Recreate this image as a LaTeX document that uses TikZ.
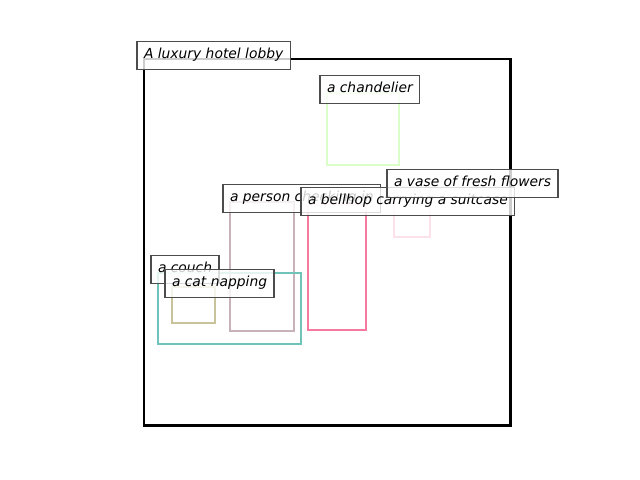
\documentclass[tikz,border=0pt]{standalone}
\usepackage{fontspec}
\setmainfont{DejaVu Sans}
\usepackage{tikz}
\usetikzlibrary{positioning, calc}

\definecolor{chandc}{RGB}{218,255,200}
\definecolor{personc}{RGB}{201,177,187}
\definecolor{bellhopc}{RGB}{244,122,160}
\definecolor{vasec}{RGB}{251,226,234}
\definecolor{couchc}{RGB}{111,195,184}
\definecolor{catc}{RGB}{200,195,154}

\begin{document}
\begin{tikzpicture}[
    x=0.01in, y=-0.01in,
    frame/.style={rectangle, draw=black, line width=2pt, anchor=north west, outer sep=0pt, inner sep=0pt},
    objbox/.style={rectangle, line width=2pt, anchor=north west, outer sep=0pt, inner sep=0pt},
    tag/.style={rectangle, draw=black!70, line width=1pt, fill=white, fill opacity=0.8, text opacity=1, anchor=base west, outer sep=0pt, inner xsep=5pt, inner ysep=5pt, text height=7.6pt, text depth=2.4pt, font=\itshape}
]
\useasboundingbox (0,0) rectangle (640,480);

% Scene frame
\node[frame, minimum width=3.66in, minimum height=3.66in] (lobby) at (144,59) {};

% Objects
\node[objbox, draw=chandc, minimum width=0.72in, minimum height=0.72in] (chandelier) at (327,93) {};
\node[objbox, draw=personc, minimum width=0.64in, minimum height=1.29in] (person) at (230,202) {};
\node[objbox, draw=bellhopc, minimum width=0.58in, minimum height=1.25in] (bellhop) at (308,205) {};
\node[objbox, draw=vasec, minimum width=0.36in, minimum height=0.50in] (vase) at (394,187) {};
\node[objbox, draw=couchc, minimum width=1.43in, minimum height=0.71in] (couch) at (158,273) {};
\node[objbox, draw=catc, minimum width=0.43in, minimum height=0.36in] (cat) at (172,287) {};

% Labels
\node[tag] (lobbytag) at ([xshift=-5pt]lobby.north west) {A luxury hotel lobby};
\node[tag] (chandeliertag) at ([xshift=-5pt]chandelier.north west) {a chandelier};
\node[tag] (persontag) at ([xshift=-5pt]person.north west) {a person checking in};
\node[tag] (bellhoptag) at ([xshift=-5pt]bellhop.north west) {a bellhop carrying a suitcase};
\node[tag] (vasetag) at ([xshift=-5pt]vase.north west) {a vase of fresh flowers};
\node[tag] (couchtag) at ([xshift=-5pt]couch.north west) {a couch};
\node[tag] (cattag) at ([xshift=-5pt]cat.north west) {a cat napping};

\end{tikzpicture}
\end{document}
